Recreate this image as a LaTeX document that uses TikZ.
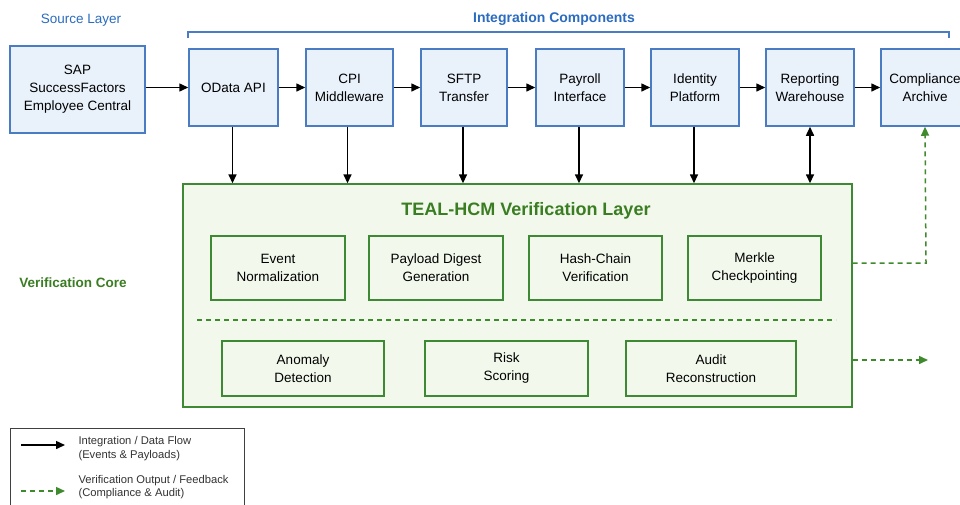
\documentclass[tikz,border=0pt]{standalone}
\usepackage{fontspec}
\setmainfont{Liberation Sans}
\usetikzlibrary{arrows.meta}
\definecolor{bborder}{HTML}{4A7CC4}
\definecolor{bfill}{HTML}{E9F1FB}
\definecolor{btext}{HTML}{2B6CC0}
\definecolor{gborder}{HTML}{3E8A34}
\definecolor{gfill}{HTML}{F2F9EC}
\definecolor{gtext}{HTML}{3A7D22}
\definecolor{gdash}{HTML}{3F8A2C}
\definecolor{ltext}{HTML}{333333}
\tikzset{
  bluebox/.style={draw=bborder, fill=bfill, line width=1.5pt, align=center, font=\fontsize{13.5}{18}\selectfont, inner sep=0pt, minimum height=77pt},
  greenbox/.style={draw=gborder, fill=gfill, line width=1.4pt, align=center, font=\fontsize{13.5}{18}\selectfont, inner sep=0pt},
  flow/.style={line width=1.5pt, -{Triangle[length=9pt,width=8pt]}},
  feedback/.style={draw=gdash, line width=1.5pt, dash pattern=on 5pt off 4pt, -{Triangle[length=9pt,width=8pt]}, color=gdash},
  layerlabel/.style={font=\fontsize{13.5}{16}\selectfont, text=btext},
}
\begin{document}
\begin{tikzpicture}[x=1pt,y=-1pt]
\useasboundingbox (0,0) rectangle (960,504);
\fill[white] (0,0) rectangle (960,504);

% labels
\node[layerlabel] (srclabel) at (81,20) {Source Layer};
\node[layerlabel, font=\bfseries\fontsize{14}{16}\selectfont] (intlabel) at (554,19) {Integration Components};
\draw[bborder, line width=1.5pt] (188,38) coordinate (brl) -- (188,32) -- (949,32) -- (949,38) coordinate (brr);
\node[font=\bfseries\fontsize{13.5}{16}\selectfont, text=gtext] (corelabel) at (73,283) {Verification Core};

% source
\node[bluebox, minimum width=135pt, minimum height=87pt] (src) at (77.5,89.5) {SAP\\SuccessFactors\\Employee Central};

% integration boxes
\node[bluebox, minimum width=89pt] (odata) at (233.5,87.5) {OData API};
\node[bluebox, minimum width=87pt] (cpi) at (349.5,87.5) {CPI\\Middleware};
\node[bluebox, minimum width=86pt] (sftp) at (464,87.5) {SFTP\\Transfer};
\node[bluebox, minimum width=88pt] (payroll) at (580,87.5) {Payroll\\Interface};
\node[bluebox, minimum width=88pt] (identity) at (695,87.5) {Identity\\Platform};
\node[bluebox, minimum width=88pt] (reporting) at (810,87.5) {Reporting\\Warehouse};
\node[bluebox, minimum width=88pt] (compliance) at (925,87.5) {Compliance\\Archive};

% horizontal flow
\draw[flow] (src.east |- odata.west) -- (odata.west);
\draw[flow] (odata) -- (cpi);
\draw[flow] (cpi) -- (sftp);
\draw[flow] (sftp) -- (payroll);
\draw[flow] (payroll) -- (identity);
\draw[flow] (identity) -- (reporting);
\draw[flow] (reporting) -- (compliance);

% verification layer
\node[draw=gborder, fill=gfill, line width=1.4pt, minimum width=669pt, minimum height=223pt, inner sep=0pt] (layer) at (517.5,295.5) {};
\node[font=\bfseries\fontsize{18}{20}\selectfont, text=gtext] (layertitle) at (526,211) {TEAL-HCM Verification Layer};

\node[greenbox, minimum width=134pt, minimum height=64pt] (event) at (278,268) {Event\\Normalization};
\node[greenbox, minimum width=134pt, minimum height=64pt] (digest) at (436,268) {Payload Digest\\Generation};
\node[greenbox, minimum width=133pt, minimum height=64pt] (hash) at (595.5,268) {Hash-Chain\\Verification};
\node[greenbox, minimum width=133pt, minimum height=64pt] (merkle) at (754.5,268) {Merkle\\Checkpointing};

\coordinate (sepl) at (197,320);
\coordinate (sepr) at (836,320);
\draw[gdash, line width=1.4pt, dash pattern=on 5pt off 4pt] (sepl) -- (sepr);

\node[greenbox, minimum width=162pt, minimum height=55pt] (anomaly) at (303,368.5) {Anomaly\\Detection};
\node[greenbox, minimum width=163pt, minimum height=55pt] (risk) at (506.5,368.5) {Risk\\Scoring};
\node[greenbox, minimum width=170pt, minimum height=55pt] (audit) at (711,368.5) {Audit\\Reconstruction};

% vertical flows
\draw[flow] ([xshift=-1pt]odata.south) -- ([xshift=-1pt]odata.south |- layer.north);
\draw[flow] ([xshift=-2pt]cpi.south) -- ([xshift=-2pt]cpi.south |- layer.north);
\draw[flow] ([xshift=-1pt]sftp.south) -- ([xshift=-1pt]sftp.south |- layer.north);
\draw[flow] ([xshift=-1pt]payroll.south) -- ([xshift=-1pt]payroll.south |- layer.north);
\draw[flow] ([xshift=-1pt]identity.south) -- ([xshift=-1pt]identity.south |- layer.north);
\draw[line width=1.5pt, {Triangle[length=9pt,width=8pt]}-{Triangle[length=9pt,width=8pt]}] (reporting.south) -- (reporting.south |- layer.north);

% feedback
\coordinate (fb1) at (926,263);
\draw[feedback] (layer.east |- fb1) -- (fb1) -- (compliance.south);
\coordinate (fb2) at (928,360);
\draw[feedback] (layer.east |- fb2) -- (fb2);

% legend
\draw[black!75, line width=1pt] (10,428) rectangle (244,520);
\coordinate (la1) at (21,445);
\coordinate (la2) at (65,445);
\draw[line width=1.5pt, -{Triangle[length=9pt,width=8pt]}] (la1) -- (la2);
\node[anchor=west, align=left, text=ltext, font=\fontsize{11.2}{13.5}\selectfont] (lt1) at (75,448.5) {Integration / Data Flow\\(Events \& Payloads)};
\coordinate (lb1) at (21,491);
\coordinate (lb2) at (65,491);
\draw[feedback] (lb1) -- (lb2);
\node[anchor=west, align=left, text=ltext, font=\fontsize{11.2}{13.5}\selectfont] (lt2) at (75,487) {Verification Output / Feedback\\(Compliance \& Audit)};
\end{tikzpicture}
\end{document}
